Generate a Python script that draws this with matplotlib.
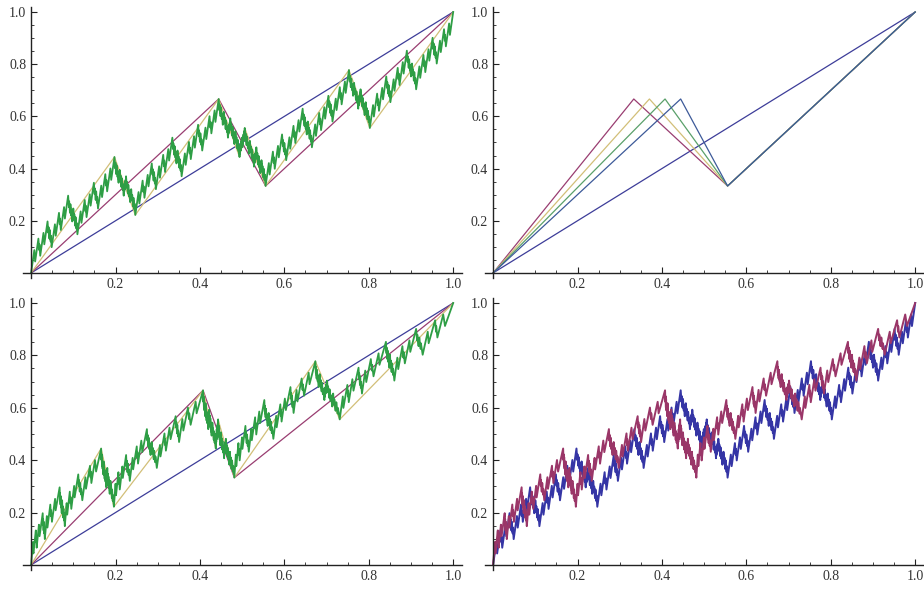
import matplotlib
matplotlib.use('Agg')
import matplotlib.pyplot as plt
import numpy as np

# generator polylines (corner points)
gen_a_x = [0.0, 4/9, 5/9, 1.0]
gen_a_y = [0.0, 2/3, 1/3, 1.0]

gen_b_x = [0.0, 11/27, 13/27, 1.0]
gen_b_y = [0.0, 2/3, 1/3, 1.0]
# the last piece of the lower-left curve uses a peak at 10/27 instead
gen_c_x = [0.0, 10/27, 13/27, 1.0]
gen_c_y = [0.0, 2/3, 1/3, 1.0]

# top-right: first stage with the peak moving right
peak_xs = [1/3, 10/27, 11/27, 4/9]
peak_y = 2/3
valley = (5/9, 1/3)

diag_x = [0.0, 1.0]
diag_y = [0.0, 1.0]

ticks = [0.2, 0.4, 0.6, 0.8, 1.0]
tick_labels = ['0.2', '0.4', '0.6', '0.8', '1.0']

# old Mathematica default colours
c_blue = '#3d3d99'
c_purple = '#993d71'
c_olive = '#d2bf78'
c_green = '#2e9e45'
c_blue2 = '#3d5a99'

gens = {'a': (gen_a_x, gen_a_y), 'b': (gen_b_x, gen_b_y), 'c': (gen_c_x, gen_c_y)}
# which curve is copied onto each generator segment
rules = {'a': ['a', 'a', 'a'], 'b': ['b', 'b', 'c'], 'c': ['c', 'c', 'b']}


def build(kind, n):
    if n == 0:
        return np.array([0.0, 1.0]), np.array([0.0, 1.0])
    gx, gy = gens[kind]
    xs, ys = [], []
    for i in range(3):
        x, y = build(rules[kind][i], n - 1)
        nx = gx[i] + (gx[i + 1] - gx[i]) * x
        ny = gy[i] + (gy[i + 1] - gy[i]) * y
        if i > 0:
            nx, ny = nx[1:], ny[1:]
        xs.append(nx)
        ys.append(ny)
    return np.concatenate(xs), np.concatenate(ys)


def style(ax):
    ax.set_xlim(-0.02, 1.02)
    ax.set_ylim(-0.02, 1.02)
    for s in ['top', 'right']:
        ax.spines[s].set_visible(False)
    ax.spines['left'].set_position(('data', 0))
    ax.spines['bottom'].set_position(('data', 0))
    for s in ['left', 'bottom']:
        ax.spines[s].set_color('#222222')
        ax.spines[s].set_linewidth(1.0)
    ax.set_xticks(ticks)
    ax.set_xticklabels(tick_labels)
    ax.set_yticks(ticks)
    ax.set_yticklabels(tick_labels)
    minors = [m / 20 for m in range(1, 21) if m % 4 != 0]
    ax.set_xticks(minors, minor=True)
    ax.set_yticks(minors, minor=True)
    ax.tick_params(which='major', direction='in', length=4.5, width=0.8,
                   color='#222222', labelsize=10, labelcolor='#333333', pad=3.5)
    ax.tick_params(which='minor', direction='in', length=2.5, width=0.6,
                   color='#222222')
    for lab in ax.get_xticklabels() + ax.get_yticklabels():
        lab.set_family('Liberation Serif')


fig = plt.figure(figsize=(9.24, 5.9), dpi=100)
w = 0.4751
ax1 = fig.add_axes([0.0245, 0.5285, w, 0.46])
ax2 = fig.add_axes([0.5245, 0.5285, w, 0.46])
ax3 = fig.add_axes([0.0245, 0.0336, w, 0.4617])
ax4 = fig.add_axes([0.5245, 0.0336, w, 0.4617])

# top-left
ax1.plot(diag_x, diag_y, color=c_blue, lw=0.9)
ax1.plot(gen_a_x, gen_a_y, color=c_purple, lw=0.9)
x, y = build('a', 2)
ax1.plot(x, y, color=c_olive, lw=0.9)
x, y = build('a', 6)
ax1.plot(x, y, color=c_green, lw=1.3)

# top-right
ax2.plot(diag_x, diag_y, color=c_blue, lw=0.9)
for px, c in zip(peak_xs, [c_purple, c_olive, '#5aa06a', c_blue2]):
    ax2.plot([0, px, valley[0], 1], [0, peak_y, valley[1], 1], color=c, lw=0.9)

# bottom-left
ax3.plot(diag_x, diag_y, color=c_blue, lw=0.9)
ax3.plot(gen_b_x, gen_b_y, color=c_purple, lw=0.9)
x, y = build('b', 2)
ax3.plot(x, y, color=c_olive, lw=0.9)
x, y = build('b', 6)
ax3.plot(x, y, color=c_green, lw=1.3)

# bottom-right
x, y = build('a', 6)
ax4.plot(x, y, color='#3535a5', lw=1.4)
x, y = build('b', 6)
ax4.plot(x, y, color='#9a3668', lw=1.4)

for ax in [ax1, ax2, ax3, ax4]:
    style(ax)

fig.savefig('out.png', dpi=100)
